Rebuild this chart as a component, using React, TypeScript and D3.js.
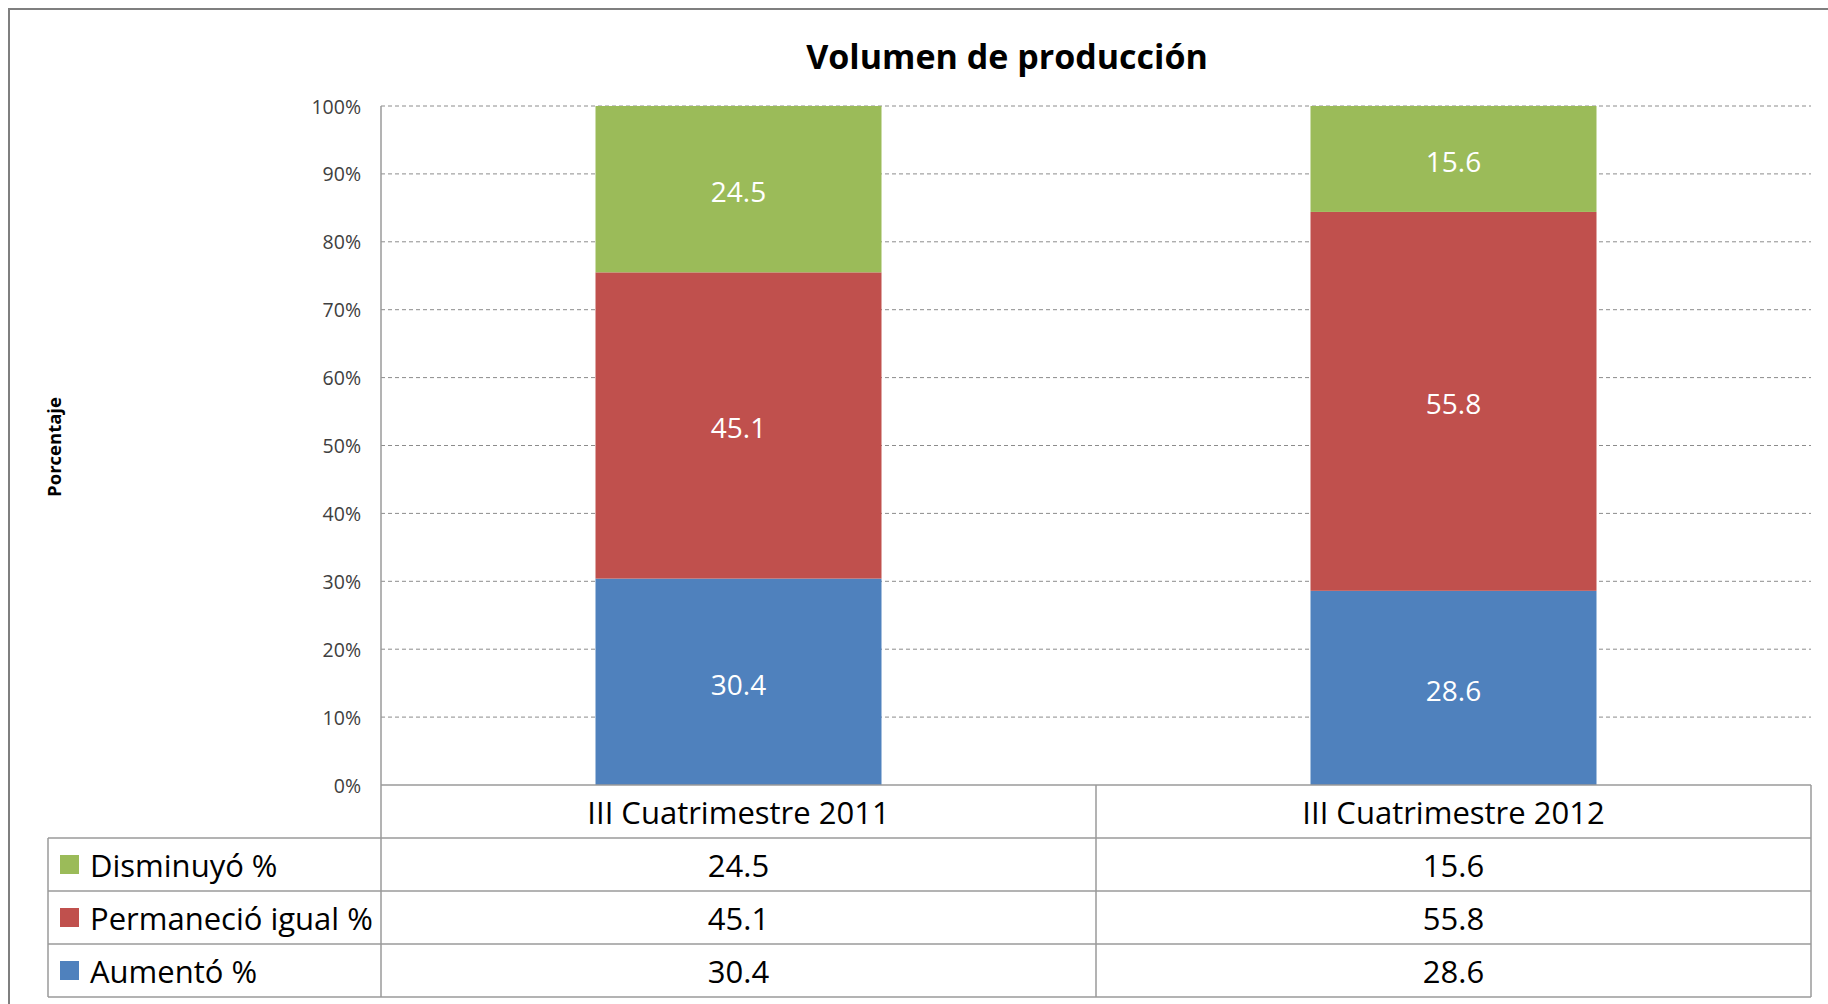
import React from "react";
import * as d3 from "d3";

// datos del gráfico
const categorias = ["III Cuatrimestre 2011", "III Cuatrimestre 2012"];
const series = ["Aumentó %", "Permaneció igual %", "Disminuyó %"];
const aumento = [30.4, 28.6];
const permanecio = [45.1, 55.8];
const disminuyo = [24.5, 15.6];
const ticks = [0, 10, 20, 30, 40, 50, 60, 70, 80, 90, 100];
const colores = ["#4F81BD", "#C0504D", "#9BBB59"];

const W = 1828;
const H = 1004;
const FONT = "'Open Sans', 'Noto Sans', sans-serif";

const App = () => {
  const plot = { left: 381, right: 1811, top: 106, bottom: 785 };
  const tabla = { left: 48, top: 838, bottom: 997 };

  const filas = categorias.map((c, i) => ({
    cat: c,
    "Aumentó %": aumento[i],
    "Permaneció igual %": permanecio[i],
    "Disminuyó %": disminuyo[i],
  }));
  const stack = d3.stack<any>().keys(series)(filas);

  const x = d3
    .scaleBand()
    .domain(categorias)
    .range([plot.left, plot.right])
    .paddingInner(0.6)
    .paddingOuter(0.3);
  const xCell = d3.scaleBand().domain(categorias).range([plot.left, plot.right]);
  const y = d3.scaleLinear().domain([0, 100]).range([plot.bottom, plot.top]);

  // filas de la tabla: verde arriba, azul abajo
  const ordenTabla = [2, 1, 0];
  const yRow = d3
    .scaleBand()
    .domain(ordenTabla.map((i) => series[i]))
    .range([tabla.top, tabla.bottom]);
  const valores = [aumento, permanecio, disminuyo];

  const borde = "#9a9a9a";
  const fsTabla = 31;

  return (
    <svg
      width={W}
      height={H}
      style={{ position: "absolute", left: 0, top: 0, background: "#fff" }}
      fontFamily={FONT}
    >
      {/* marco */}
      <rect x={9} y={9} width={W + 20} height={H + 20} fill="#fff" stroke="#7f7f7f" strokeWidth={2} />

      <text x={1007} y={56} textAnchor="middle" dominantBaseline="central" fontSize={34} fontWeight={700} fill="#000">
        Volumen de producción
      </text>

      <text
        transform={`translate(53,447) rotate(-90)`}
        textAnchor="middle"
        dominantBaseline="central"
        fontSize={18.5}
        fontWeight={700}
        fill="#000"
      >
        Porcentaje
      </text>

      {/* rejilla */}
      {ticks.map((t) => (
        <g key={t}>
          {t > 0 && (
            <line
              x1={plot.left}
              x2={plot.right}
              y1={y(t)}
              y2={y(t)}
              stroke="#8c8c8c"
              strokeWidth={1}
              strokeDasharray="4,3"
            />
          )}
          <text x={361} y={y(t)} textAnchor="end" dominantBaseline="central" fontSize={19.5} fill="#404040">
            {t}%
          </text>
        </g>
      ))}

      {/* barras */}
      {stack.map((s, si) => (
        <g key={s.key}>
          {s.map((d, i) => (
            <g key={i}>
              <rect
                x={x(categorias[i])}
                y={y(d[1])}
                width={x.bandwidth()}
                height={y(d[0]) - y(d[1])}
                fill={colores[si]}
              />
              <text
                x={x(categorias[i])! + x.bandwidth() / 2}
                y={(y(d[0]) + y(d[1])) / 2 + 2}
                textAnchor="middle"
                dominantBaseline="central"
                fontSize={28}
                fill="#fff"
              >
                {(d[1] - d[0]).toFixed(1)}
              </text>
            </g>
          ))}
        </g>
      ))}

      {/* eje y */}
      <line x1={plot.left} x2={plot.left} y1={plot.top} y2={tabla.bottom} stroke={borde} strokeWidth={1.5} />

      {/* tabla de datos: encabezado */}
      <line x1={plot.left} x2={plot.right} y1={plot.bottom} y2={plot.bottom} stroke={borde} strokeWidth={1.5} />
      {categorias.map((c) => (
        <g key={c}>
          <line
            x1={xCell(c)! + xCell.bandwidth()}
            x2={xCell(c)! + xCell.bandwidth()}
            y1={plot.bottom}
            y2={tabla.bottom}
            stroke={borde}
            strokeWidth={1.5}
          />
          <text
            x={xCell(c)! + xCell.bandwidth() / 2}
            y={(plot.bottom + tabla.top) / 2}
            textAnchor="middle"
            dominantBaseline="central"
            fontSize={fsTabla}
            fill="#000"
          >
            {c}
          </text>
        </g>
      ))}

      {ordenTabla.map((si) => {
        const nombre = series[si];
        const y0 = yRow(nombre)!;
        const h = yRow.bandwidth();
        return (
          <g key={nombre}>
            <line x1={tabla.left} x2={plot.right} y1={y0} y2={y0} stroke={borde} strokeWidth={1.5} />
            <rect x={60} y={y0 + h / 2 - 9.5} width={19} height={19} fill={colores[si]} />
            <text x={90} y={y0 + h / 2} dominantBaseline="central" fontSize={fsTabla} fill="#000">
              {nombre}
            </text>
            {categorias.map((c, ci) => (
              <text
                key={c}
                x={xCell(c)! + xCell.bandwidth() / 2}
                y={y0 + h / 2}
                textAnchor="middle"
                dominantBaseline="central"
                fontSize={fsTabla}
                fill="#000"
              >
                {valores[si][ci].toFixed(1)}
              </text>
            ))}
          </g>
        );
      })}
      <line x1={tabla.left} x2={plot.right} y1={tabla.bottom} y2={tabla.bottom} stroke={borde} strokeWidth={1.5} />
      <line x1={tabla.left} x2={tabla.left} y1={tabla.top} y2={tabla.bottom} stroke={borde} strokeWidth={1.5} />
    </svg>
  );
};

export default App;
